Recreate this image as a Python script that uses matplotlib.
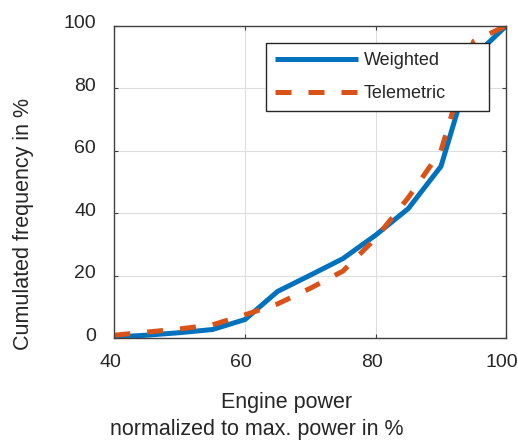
import matplotlib
matplotlib.use('Agg')
import matplotlib.pyplot as plt
import matplotlib.transforms as mtransforms

plt.rcParams['font.family'] = ['Liberation Sans', 'DejaVu Sans']

# engine power steps in % of max power
power = [40, 45, 50, 55, 60, 65, 70, 75, 80, 85, 90, 95, 100]
# cumulated frequency in %
weighted = [0.4, 1.0, 1.8, 2.8, 6.0, 15.0, 20.2, 25.5, 33.0, 41.5, 55.0, 90.0, 100.0]
telemetric = [1.0, 2.0, 3.0, 4.3, 7.5, 11.0, 16.0, 21.5, 32.0, 45.0, 60.0, 95.0, 100.0]

xticks = [40, 60, 80, 100]
yticks = [0, 20, 40, 60, 80, 100]

blue = '#0072BD'
orange = '#D95319'
txt = '#262626'

fig = plt.figure(figsize=(5.18, 4.41), dpi=100)
ax = fig.add_axes([114.3 / 518, 1 - 338.3 / 441, 392 / 518, 312.6 / 441])

ax.plot(power, weighted, color=blue, lw=3.6, label='Weighted', solid_capstyle='butt')
ax.plot(power, telemetric, color=orange, lw=3.6, dashes=(3.2, 3.4),
        dash_capstyle='butt', label='Telemetric')

ax.set_xlim(40, 100)
ax.set_ylim(0, 100)
ax.set_xticks(xticks)
ax.set_yticks(yticks)
ax.grid(True, color='#dedede', lw=0.8)
ax.set_axisbelow(True)
ax.tick_params(direction='in', length=3, width=0.8, color='#404040',
               top=True, right=True, labelsize=14, labelcolor=txt)
ax.tick_params(axis='x', pad=11)
ax.tick_params(axis='y', pad=13)
for s in ax.spines.values():
    s.set_color('#404040')
    s.set_linewidth(1.0)

# tick labels sit a little off their ticks in the original
for lab in ax.get_xticklabels():
    lab.set_transform(lab.get_transform() +
                      mtransforms.ScaledTranslation(-4 / 100, 0, fig.dpi_scale_trans))
for lab in ax.get_yticklabels():
    lab.set_transform(lab.get_transform() +
                      mtransforms.ScaledTranslation(0, 4 / 100, fig.dpi_scale_trans))

leg = ax.legend(loc='upper left', bbox_to_anchor=(0.386, 0.70, 0.570, 0.245),
                mode='expand', fontsize=13, handlelength=4.6, handletextpad=0.35,
                borderpad=0.5, labelspacing=0.9, borderaxespad=0,
                fancybox=False, framealpha=1, edgecolor='#262626')
leg.get_frame().set_linewidth(1.0)
for t in leg.get_texts():
    t.set_color(txt)

fig.text(24 / 518, 1 - 223.5 / 441, 'Cumulated frequency in %', rotation=90,
         ha='center', va='center', fontsize=15.5, color=txt)
fig.text(287 / 518, 1 - 408 / 441, 'Engine power', ha='center', va='baseline',
         fontsize=15.5, color=txt)
fig.text(257 / 518, 1 - 435 / 441, 'normalized to max. power in %', ha='center',
         va='baseline', fontsize=15.5, color=txt)

fig.savefig('out.png', dpi=100)
